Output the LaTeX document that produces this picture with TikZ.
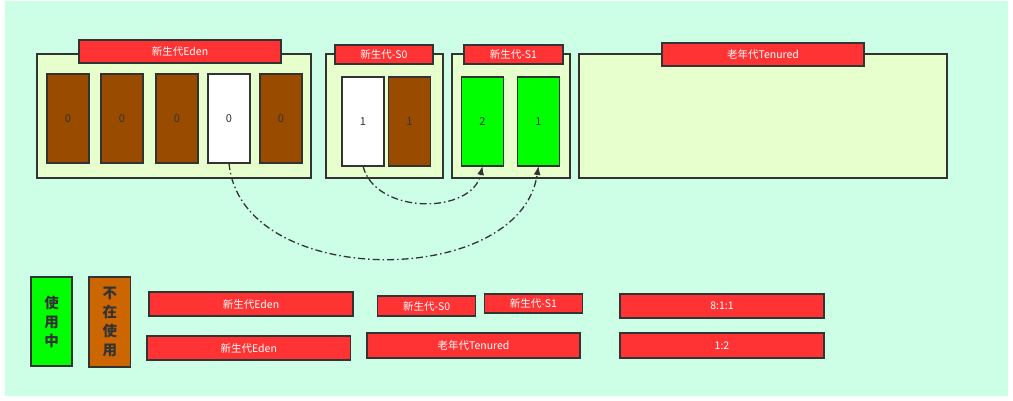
\documentclass[tikz,border=0pt]{standalone}
\usepackage{fontspec}
\setmainfont{Noto Sans CJK SC}
\usetikzlibrary{arrows.meta}
\definecolor{bgmint}{HTML}{CCFFE6}
\definecolor{boxfill}{HTML}{E6FFCC}
\definecolor{edge}{HTML}{333333}
\definecolor{redbar}{HTML}{FF3333}
\definecolor{brownblk}{HTML}{994C00}
\definecolor{orangeblk}{HTML}{CC6600}
\definecolor{greenblk}{HTML}{00FF00}
\tikzset{
  every node/.style={inner sep=0pt, outer sep=0pt},
  region/.style={draw=edge, line width=1.5pt, fill=boxfill, rectangle},
  titlebar/.style={draw=edge, line width=1.5pt, fill=redbar, rectangle, text=white, font=\fontsize{10.5}{12}\selectfont},
  blk/.style={draw=edge, line width=1.5pt, rectangle, minimum width=42pt, minimum height=89pt, text=edge, font=\fontsize{11}{13}\selectfont},
  brown/.style={blk, fill=brownblk},
  whiteb/.style={blk, fill=white},
  greenb/.style={blk, fill=greenblk},
  legend/.style={draw=edge, line width=1.5pt, rectangle, text=edge, align=center, font=\fontsize{14.5}{19}\selectfont\bfseries},
  flow/.style={draw=edge, line width=1.3pt, dash pattern=on 7pt off 3pt on 1.5pt off 3pt, -{Latex[length=9pt,width=7pt]}}
}
\begin{document}
\begin{tikzpicture}[x=1pt,y=-1pt]
\useasboundingbox (0,0) rectangle (1013,401);
\fill[bgmint] (5,1) rectangle (1008,396);

% containers
\node[region, minimum width=274pt, minimum height=124pt] (eden) at (174,116) {};
\node[region, minimum width=117pt, minimum height=124pt] (szero) at (384.5,116) {};
\node[region, minimum width=118pt, minimum height=124pt] (sone) at (511,116) {};
\node[region, minimum width=368pt, minimum height=124pt] (tenured) at (763,116) {};

% titles
\node[titlebar, minimum width=202pt, minimum height=23pt] (edent) at (180,51.5) {新生代Eden};
\node[titlebar, minimum width=98pt, minimum height=19pt] (szerot) at (384,54.5) {新生代-S0};
\node[titlebar, minimum width=99pt, minimum height=19pt] (sonet) at (513.5,54.5) {新生代-S1};
\node[titlebar, minimum width=202pt, minimum height=23pt] (tenuredt) at (763,54.5) {老年代Tenured};

% eden blocks
\node[brown] (ea) at (68,118.5) {0};
\node[brown] (eb) at (122,118.5) {0};
\node[brown] (ec) at (177,118.5) {0};
\node[whiteb] (ed) at (229,118.5) {0};
\node[brown] (ee) at (281,118.5) {0};

% S0 blocks
\node[whiteb] (sa) at (363,121.5) {1};
\node[brown] (sb) at (409.5,121.5) {1};

% S1 blocks
\node[greenb] (ta) at (482.5,121.5) {2};
\node[greenb] (tb) at (538.5,121.5) {1};

% arrows
\draw[flow] (ed.south) .. controls +(11,127) and +(-18.5,124) .. (tb.south);
\draw[flow] (sa.south) .. controls +(12,49) and +(-10.5,49) .. (ta.south);

% legend
\node[legend, fill=greenblk, minimum width=41pt, minimum height=89pt] (inuse) at (51.5,321.5) {使\\用\\中};
\node[legend, fill=orangeblk, minimum width=41.5pt, minimum height=90pt] (notuse) at (109.75,322) {不\\在\\使\\用};

\node[titlebar, minimum width=204pt, minimum height=24pt] (leden) at (251,304) {新生代Eden};
\node[titlebar, minimum width=203.5pt, minimum height=24pt] (ledenb) at (248.75,348) {新生代Eden};
\node[titlebar, minimum width=98pt, minimum height=20pt] (lszero) at (426.7,306) {新生代-S0};
\node[titlebar, minimum width=98pt, minimum height=19pt] (lsone) at (533.5,303.5) {新生代-S1};
\node[titlebar, minimum width=213pt, minimum height=25pt] (ltenured) at (473.5,345.5) {老年代Tenured};
\node[titlebar, minimum width=204pt, minimum height=24pt] (ratioa) at (722,306) {8:1:1};
\node[titlebar, minimum width=204pt, minimum height=25pt] (ratiob) at (722,345.5) {1:2};
\end{tikzpicture}
\end{document}
